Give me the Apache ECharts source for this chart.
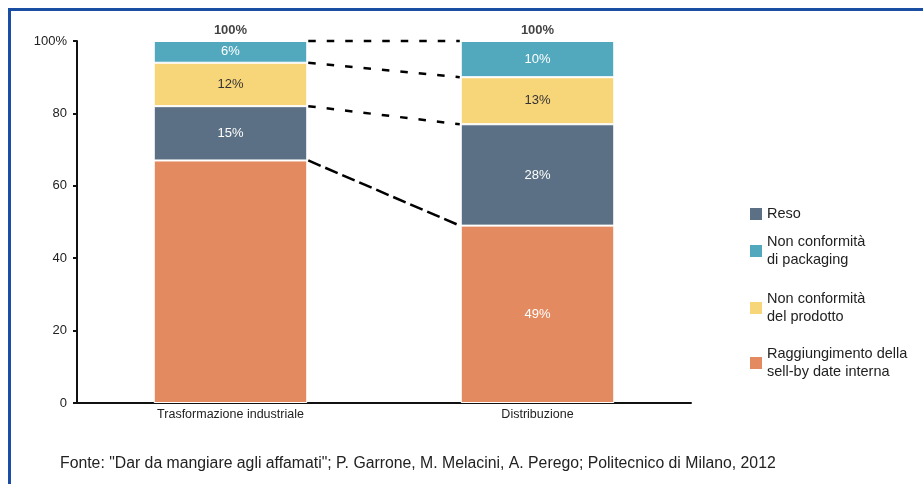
<!DOCTYPE html>
<html>
<head>
<meta charset="utf-8">
<script src="https://cdn.jsdelivr.net/npm/echarts@6/dist/echarts.min.js"></script>
<style>
  html, body { margin: 0; padding: 0; background: #fff; }
  #chart { width: 923px; height: 484px; }
</style>
</head>
<body>
<div id="chart"></div>
<script>
// Categories and shares (%) of each cause of surplus, bottom to top of the stack
const categories = ['Trasformazione industriale', 'Distribuzione'];
const sellByValues = [67, 49];
const resoValues = [15, 28];
const prodottoValues = [12, 13];
const packagingValues = [6, 10];
const yTickLabels = ['0', '20', '40', '60', '80', '100%'];
const sourceNote = 'Fonte: "Dar da mangiare agli affamati"; P. Garrone, M. Melacini, A. Perego; Politecnico di Milano, 2012';

const FONT = '"Liberation Sans", Arial, Helvetica, sans-serif';
const colors = {
  sellBy: '#e38a61',
  reso: '#5b7084',
  prodotto: '#f7d579',
  packaging: '#52a8bd'
};

const stackOrder = [sellByValues, resoValues, prodottoValues, packagingValues];

// Cumulative tops of each segment, used for the dashed connectors
const cumulative = categories.map((_, ci) => {
  let sum = 0;
  return stackOrder.map(arr => (sum += arr[ci]));
});
const connectorData = stackOrder.map((_, k) => [0, cumulative[0][k], cumulative[1][k]]);
const totals = categories.map((_, ci) => cumulative[ci][stackOrder.length - 1]);

function barSeries(name, values, color, labelColor, hideFirstLabel) {
  return {
    name: name,
    type: 'bar',
    stack: 'total',
    barWidth: '50%',
    data: values.map((v, i) => (hideFirstLabel && i === 0) ? { value: v, label: { show: false } } : v),
    itemStyle: { color: color, borderColor: '#ffffff', borderWidth: 1 },
    label: {
      show: true,
      position: 'inside',
      formatter: '{c}%',
      color: labelColor,
      fontFamily: FONT,
      fontSize: 13
    },
    emphasis: { disabled: true }
  };
}

const legendBase = {
  orient: 'vertical',
  left: 750,
  padding: 0,
  itemWidth: 12,
  itemHeight: 12,
  icon: 'rect',
  selectedMode: false,
  itemStyle: { borderWidth: 0 },
  textStyle: { fontFamily: FONT, fontSize: 14.5, color: '#222', lineHeight: 18 }
};
function legendFor(name, top, twoLines) {
  const lg = Object.assign({}, legendBase, { data: [name], top: top });
  if (twoLines) {
    lg.textStyle = Object.assign({}, legendBase.textStyle, { padding: [18, 0, 0, 0] });
  }
  return lg;
}

const chart = echarts.init(document.getElementById('chart'), null, { renderer: 'canvas' });

chart.setOption({
  backgroundColor: '#ffffff',
  animation: false,
  title: {
    text: sourceNote,
    left: 60,
    top: 456,
    padding: 0,
    textStyle: { fontFamily: FONT, fontSize: 15.8, fontWeight: 'normal', color: '#222' }
  },
  graphic: [
    { type: 'rect', shape: { x: 8, y: 8, width: 915, height: 3 }, style: { fill: '#1a4ea3' } },
    { type: 'rect', shape: { x: 8, y: 8, width: 3, height: 476 }, style: { fill: '#1a4ea3' } }
  ],
  legend: [
    legendFor('Reso', 205, false),
    legendFor('Non conformità\ndi packaging', 224, true),
    legendFor('Non conformità\ndel prodotto', 281, true),
    legendFor('Raggiungimento della\nsell-by date interna', 336, true)
  ],
  grid: { left: 77, right: 232, top: 41, bottom: 81 },
  xAxis: {
    type: 'category',
    data: categories,
    axisLine: { lineStyle: { color: '#111', width: 2 } },
    axisTick: { show: false },
    axisLabel: { fontFamily: FONT, fontSize: 12.5, color: '#222', margin: 5 }
  },
  yAxis: {
    type: 'value',
    min: 0,
    max: 100,
    interval: 20,
    splitLine: { show: false },
    axisLine: { show: true, lineStyle: { color: '#111', width: 2 } },
    axisTick: { show: true, length: 4, lineStyle: { color: '#111', width: 2 } },
    axisLabel: {
      fontFamily: FONT, fontSize: 13, color: '#222', margin: 10,
      formatter: (v) => yTickLabels[Math.round(v / 20)]
    }
  },
  series: [
    barSeries('Raggiungimento della\nsell-by date interna', sellByValues, colors.sellBy, '#ffffff', true),
    barSeries('Reso', resoValues, colors.reso, '#ffffff', false),
    barSeries('Non conformità\ndel prodotto', prodottoValues, colors.prodotto, '#333333', false),
    barSeries('Non conformità\ndi packaging', packagingValues, colors.packaging, '#ffffff', false),
    {
      // Totals above each stack
      type: 'scatter',
      data: totals,
      symbolSize: 0,
      silent: true,
      label: {
        show: true,
        position: 'top',
        distance: 4,
        formatter: '{c}%',
        fontFamily: FONT,
        fontSize: 13,
        fontWeight: 'bold',
        color: '#111'
      }
    },
    {
      // Dashed connectors between matching segment tops of the two stacks
      type: 'custom',
      silent: true,
      encode: { x: 0, y: 1 },
      data: connectorData,
      renderItem: function (params, api) {
        const band = api.size([1, 0])[0];
        const half = band * 0.25;
        const p1 = api.coord([0, api.value(1)]);
        const p2 = api.coord([1, api.value(2)]);
        // the lowest connector uses longer dashes
        const dash = params.dataIndex === 0 ? [13.5, 5] : [7.5, 11];
        return {
          type: 'line',
          shape: { x1: p1[0] + half + 1, y1: p1[1], x2: p2[0] - half - 1, y2: p2[1] },
          style: { stroke: '#000', lineWidth: 2.5, lineDash: dash, fill: null }
        };
      }
    }
  ]
});
</script>
</body>
</html>
